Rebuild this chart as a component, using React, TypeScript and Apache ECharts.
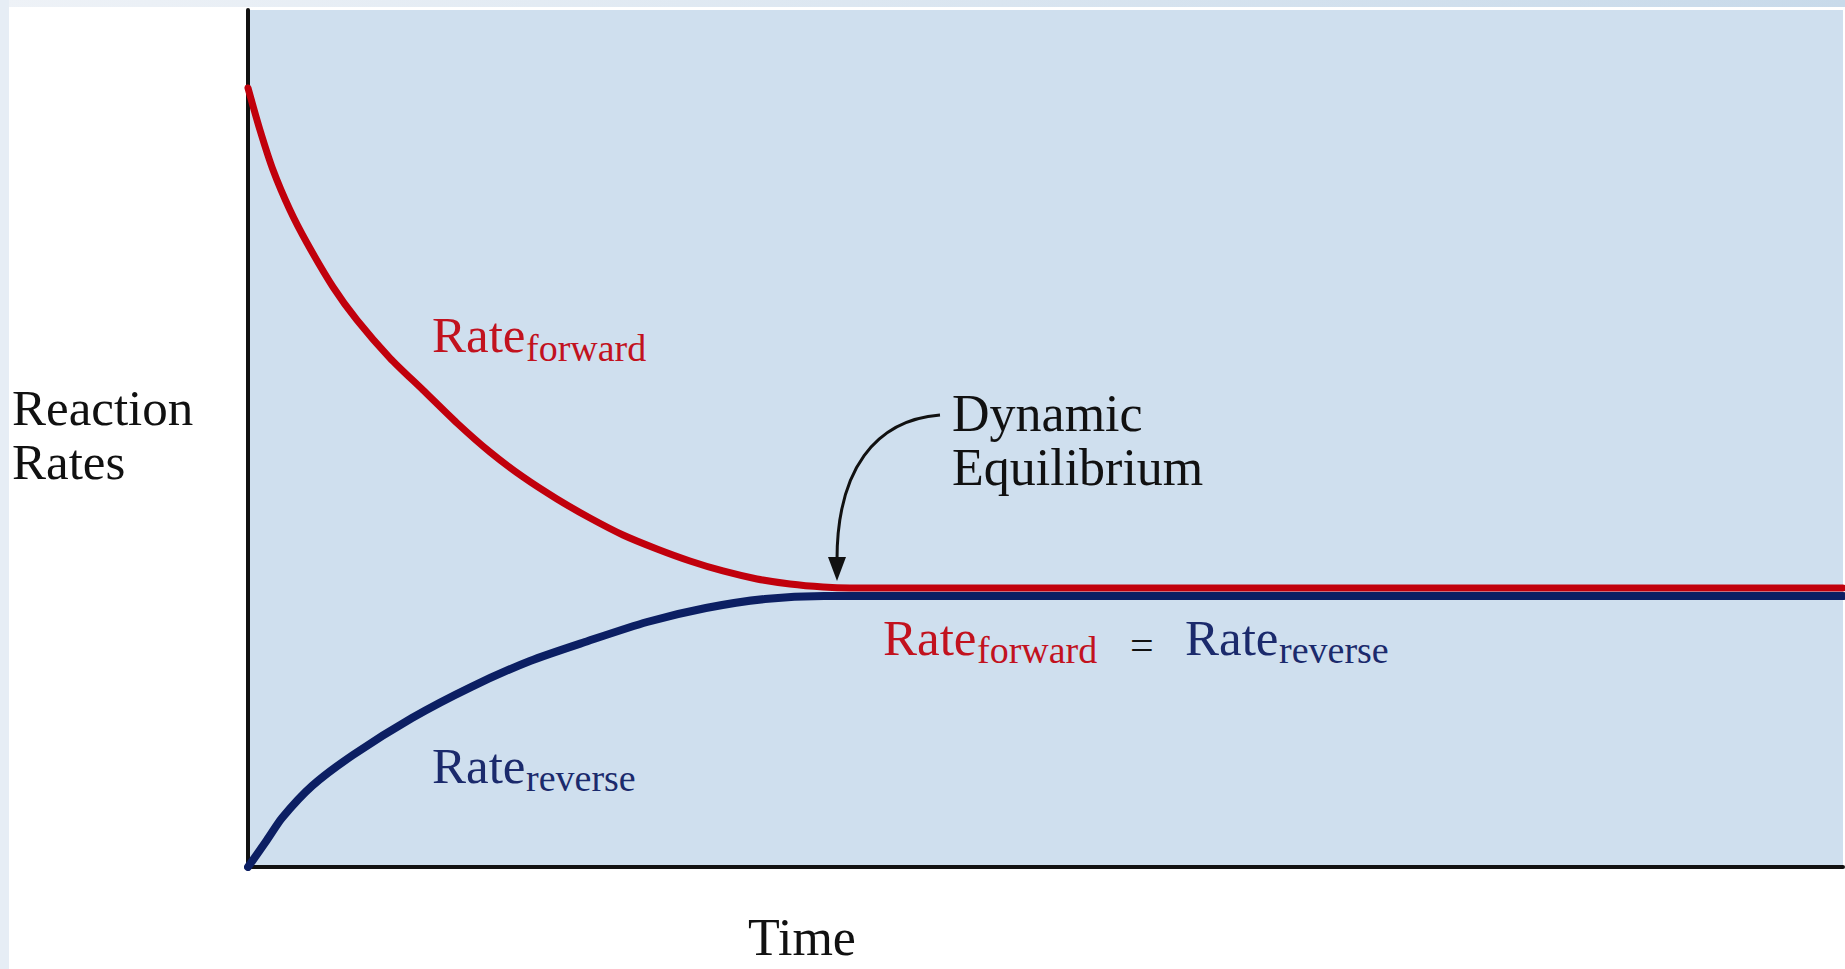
import React, { useEffect, useRef } from "react";
import * as echarts from "echarts";

// Time positions (0–100, arbitrary units) and reaction-rate values (0–100)
const timeForward = [0, 0.75, 1.57, 2.63, 3.7, 5.33, 6.83, 8.9, 10.97, 13.1, 15.17, 17.24, 19.37, 21.44, 23.51, 25.64, 27.71, 29.78, 31.91, 33.98, 36.05, 37.74, 100];
const rateForward = [90.9, 86.0, 81.33, 76.66, 72.81, 67.68, 63.83, 59.39, 55.66, 51.81, 48.42, 45.51, 42.94, 40.72, 38.74, 37.11, 35.71, 34.54, 33.61, 33.02, 32.67, 32.56, 32.56];

const timeReverse = [0, 1.19, 2.13, 4.01, 6.58, 10.28, 13.98, 17.68, 21.32, 25.02, 28.71, 32.41, 36.11, 100];
const rateReverse = [0, 3.15, 5.72, 9.45, 13.07, 17.39, 21.0, 24.04, 26.37, 28.59, 30.22, 31.27, 31.62, 31.62];

const yAxisTitle = ["Reaction", "Rates"];
const xAxisTitle = "Time";
const annotationLines = ["Dynamic", "Equilibrium"];
const rateWord = "Rate";
const subForward = "forward";
const subReverse = "reverse";

const RED = "#c1000c";
const BLUE = "#0c1f63";
const RED_TEXT = "#c2121e";
const BLUE_TEXT = "#1b2a6c";
const FONT = "'Liberation Serif', 'DejaVu Serif', serif";
const MAIN = 51;
const SUB = 38;

// y for a text drawn with verticalAlign middle so that its baseline lands at `baseline`
const mid = (baseline: number, fs: number) => baseline - 0.3375 * fs;

const txt = (text: string, x: number, baseline: number, fs: number, color: string) => ({
  type: "text",
  z: 10,
  x,
  y: mid(baseline, fs),
  style: {
    text,
    fill: color,
    font: `${fs}px ${FONT}`,
    fontSize: fs,
    fontFamily: FONT,
    align: "left",
    verticalAlign: "middle",
  },
});

export default function App() {
  const ref = useRef<HTMLDivElement>(null);
  useEffect(() => {
    if (!ref.current) return;
    const chart = echarts.init(ref.current, undefined, { renderer: "svg" });
    chart.setOption({
      animation: false,
      backgroundColor: "#ffffff",
      grid: {
        left: 248,
        top: 10,
        right: 2,
        bottom: 102,
        show: true,
        backgroundColor: "#cfdfee",
        borderWidth: 0,
      },
      xAxis: {
        type: "value",
        min: 0,
        max: 100,
        axisLine: { show: true, onZero: false, lineStyle: { color: "#111", width: 4 } },
        axisTick: { show: false },
        axisLabel: { show: false },
        splitLine: { show: false },
      },
      yAxis: {
        type: "value",
        min: 0,
        max: 100,
        axisLine: { show: true, onZero: false, lineStyle: { color: "#111", width: 4 } },
        axisTick: { show: false },
        axisLabel: { show: false },
        splitLine: { show: false },
      },
      series: [
        {
          type: "line",
          name: "Rate forward",
          data: timeForward.map((t, i) => [t, rateForward[i]]),
          symbol: "none",
          smooth: 0.25,
          lineStyle: { color: RED, width: 7, cap: "round", join: "round" },
          z: 3,
        },
        {
          type: "line",
          name: "Rate reverse",
          data: timeReverse.map((t, i) => [t, rateReverse[i]]),
          symbol: "none",
          smooth: 0.25,
          lineStyle: { color: BLUE, width: 8, cap: "round", join: "round" },
          z: 4,
        },
      ],
      graphic: [
        {
          type: "rect",
          z: -5,
          shape: { x: 0, y: 0, width: 1845, height: 7 },
          style: {
            fill: new echarts.graphic.LinearGradient(0, 0, 1, 0, [
              { offset: 0, color: "#eef2f7" },
              { offset: 1, color: "#c8daea" },
            ]),
          },
        },
        {
          type: "rect",
          z: -5,
          shape: { x: 0, y: 0, width: 9, height: 969 },
          style: { fill: "#e6edf5" },
        },
        txt(yAxisTitle[0], 12, 425, MAIN, "#111"),
        txt(yAxisTitle[1], 12, 479, MAIN, "#111"),
        txt(xAxisTitle, 748, 955, 52, "#111"),
        txt(annotationLines[0], 952, 431, 52, "#111"),
        txt(annotationLines[1], 952, 485, 52, "#111"),
        txt(rateWord, 432, 352, MAIN, RED_TEXT),
        txt(subForward, 526, 361, SUB, RED_TEXT),
        txt(rateWord, 432, 783, MAIN, BLUE_TEXT),
        txt(subReverse, 526, 791, SUB, BLUE_TEXT),
        txt(rateWord, 883, 655, MAIN, RED_TEXT),
        txt(subForward, 977, 663, SUB, RED_TEXT),
        txt("=", 1130, 659, 42, "#111"),
        txt(rateWord, 1185, 655, MAIN, BLUE_TEXT),
        txt(subReverse, 1279, 663, SUB, BLUE_TEXT),
        {
          type: "bezierCurve",
          z: 10,
          shape: { x1: 940, y1: 415, cpx1: 875, cpy1: 420, cpx2: 837, cpy2: 470, x2: 837, y2: 560 },
          style: { stroke: "#111", lineWidth: 3, fill: null },
        },
        {
          type: "polygon",
          z: 10,
          shape: { points: [[828, 557], [846, 557], [837, 581]] },
          style: { fill: "#111" },
        },
      ],
    });
    return () => chart.dispose();
  }, []);
  return (
    <div
      ref={ref}
      style={{ position: "absolute", left: 0, top: 0, width: 1845, height: 969 }}
    />
  );
}
